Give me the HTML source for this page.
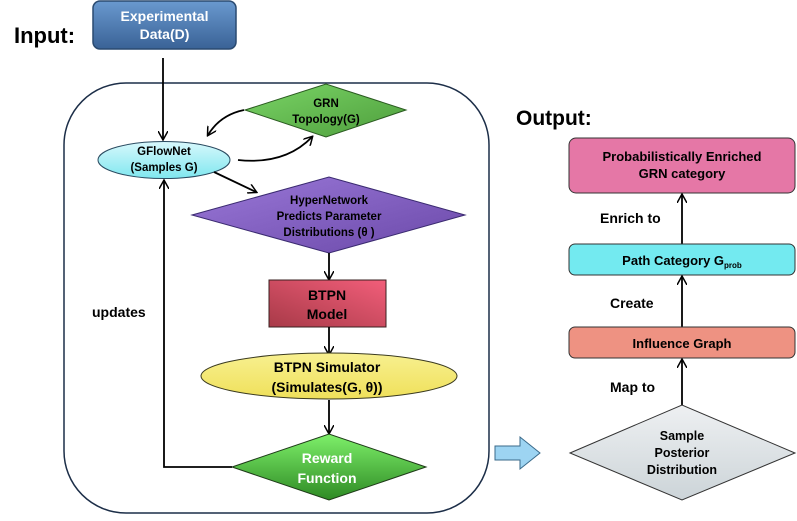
<!DOCTYPE html>
<html><head><style>
body{margin:0;background:#fff;}
svg text{font-family:"Liberation Sans",sans-serif;font-weight:bold;}
</style></head><body>
<svg width="797" height="516" viewBox="0 0 797 516" xmlns="http://www.w3.org/2000/svg">
<defs>
<marker id="a" markerWidth="10" markerHeight="10" refX="8" refY="5" orient="auto" markerUnits="userSpaceOnUse"><path d="M0,0 L9,5 L0,10" fill="none" stroke="#000" stroke-width="1.5"/></marker>
<linearGradient id="gb" x1="0" y1="0" x2="0" y2="1"><stop offset="0" stop-color="#6a99cf"/><stop offset="1" stop-color="#3a6296"/></linearGradient>
<linearGradient id="gc" x1="0" y1="0" x2="0" y2="1"><stop offset="0" stop-color="#d8f8fc"/><stop offset="1" stop-color="#7fe7ef"/></linearGradient>
<linearGradient id="gg" x1="0" y1="0" x2="1" y2="1"><stop offset="0" stop-color="#7ad466"/><stop offset="1" stop-color="#4e9e3c"/></linearGradient>
<linearGradient id="gp" x1="0" y1="0" x2="1" y2="1"><stop offset="0" stop-color="#9a78d8"/><stop offset="1" stop-color="#6a48a8"/></linearGradient>
<linearGradient id="gr" x1="1" y1="0" x2="0" y2="1"><stop offset="0" stop-color="#f25e7a"/><stop offset="1" stop-color="#a83a48"/></linearGradient>
<linearGradient id="gy" x1="0" y1="0" x2="0" y2="1"><stop offset="0" stop-color="#f8f090"/><stop offset="1" stop-color="#efe05a"/></linearGradient>
<linearGradient id="gw" x1="0" y1="0" x2="0" y2="1"><stop offset="0" stop-color="#7ef06a"/><stop offset="1" stop-color="#2e8a24"/></linearGradient>
<linearGradient id="gs" x1="0" y1="0" x2="0" y2="1"><stop offset="0" stop-color="#eef0f2"/><stop offset="1" stop-color="#ccd4d8"/></linearGradient>
</defs>
<text x="14" y="43" font-size="22">Input:</text>
<rect x="93" y="1" width="143" height="48" rx="7" fill="url(#gb)" stroke="#2a4a70" stroke-width="1.5"/>
<text x="164.5" y="21" font-size="14" fill="#fff" text-anchor="middle">Experimental</text>
<text x="164.5" y="39" font-size="14" fill="#fff" text-anchor="middle">Data(D)</text>
<rect x="64" y="83" width="425" height="430" rx="62" fill="none" stroke="#1c2e48" stroke-width="1.5"/>
<line x1="163" y1="58" x2="163" y2="139" stroke="#000" stroke-width="1.8" marker-end="url(#a)"/>
<polygon points="245,110 326,84 406,110 326,137" fill="url(#gg)" stroke="#2a5a20" stroke-width="1"/>
<text x="326" y="107" font-size="11.5" text-anchor="middle">GRN</text>
<text x="326" y="123" font-size="11.5" text-anchor="middle">Topology(G)</text>
<ellipse cx="164" cy="160" rx="66" ry="18.5" fill="url(#gc)" stroke="#2a4a60" stroke-width="1"/>
<text x="164" y="155" font-size="11.5" text-anchor="middle">GFlowNet</text>
<text x="164" y="171" font-size="11.5" text-anchor="middle">(Samples G)</text>
<path d="M244,110 Q220,115 208,135" fill="none" stroke="#000" stroke-width="1.8" marker-end="url(#a)"/>
<path d="M238,160 Q285,165 312,137" fill="none" stroke="#000" stroke-width="1.8" marker-end="url(#a)"/>
<line x1="214" y1="172" x2="256" y2="192" stroke="#000" stroke-width="1.8" marker-end="url(#a)"/>
<polygon points="192,215 329,177 465,215 329,253" fill="url(#gp)" stroke="#3a2a70" stroke-width="1"/>
<text x="329" y="204" font-size="11.5" text-anchor="middle">HyperNetwork</text>
<text x="329" y="220" font-size="11.5" text-anchor="middle">Predicts Parameter</text>
<text x="329" y="236" font-size="11.5" text-anchor="middle">Distributions (θ )</text>
<line x1="329" y1="253" x2="329" y2="279" stroke="#000" stroke-width="1.8" marker-end="url(#a)"/>
<rect x="269" y="280" width="117" height="47" fill="url(#gr)" stroke="#3a2020" stroke-width="1"/>
<text x="327" y="300" font-size="14" text-anchor="middle">BTPN</text>
<text x="327" y="319" font-size="14" text-anchor="middle">Model</text>
<line x1="329" y1="327" x2="329" y2="354" stroke="#000" stroke-width="1.8" marker-end="url(#a)"/>
<ellipse cx="329" cy="376" rx="128" ry="23" fill="url(#gy)" stroke="#3a3a20" stroke-width="1"/>
<text x="327" y="372" font-size="14" text-anchor="middle">BTPN Simulator</text>
<text x="327" y="392" font-size="14" text-anchor="middle">(Simulates(G, θ))</text>
<line x1="329" y1="400" x2="329" y2="433" stroke="#000" stroke-width="1.8" marker-end="url(#a)"/>
<polygon points="232,467 329,434 426,467 329,500" fill="url(#gw)" stroke="#1e3a18" stroke-width="1"/>
<text x="327" y="463" font-size="14" fill="#fff" text-anchor="middle">Reward</text>
<text x="327" y="483" font-size="14" fill="#fff" text-anchor="middle">Function</text>
<polyline points="232,467 164,467 164,181" fill="none" stroke="#000" stroke-width="1.8" marker-end="url(#a)"/>
<text x="92" y="317" font-size="14">updates</text>
<polygon points="495,446 520,446 520,437 540,453 520,469 520,460 495,460" fill="#9dd4f2" stroke="#3a6a8a" stroke-width="1"/>
<text x="516" y="125" font-size="21">Output:</text>
<rect x="569" y="138" width="226" height="55" rx="7" fill="#e577a6" stroke="#333" stroke-width="1"/>
<text x="682" y="161" font-size="13" text-anchor="middle">Probabilistically Enriched</text>
<text x="682" y="178" font-size="13" text-anchor="middle">GRN category</text>
<line x1="682" y1="244" x2="682" y2="195" stroke="#000" stroke-width="1.8" marker-end="url(#a)"/>
<text x="600" y="223" font-size="14">Enrich to</text>
<rect x="569" y="244" width="226" height="31" rx="6" fill="#73eaf0" stroke="#333" stroke-width="1"/>
<text x="682" y="265" font-size="13" text-anchor="middle">Path Category G<tspan font-size="8" dy="3">prob</tspan></text>
<line x1="682" y1="327" x2="682" y2="277" stroke="#000" stroke-width="1.8" marker-end="url(#a)"/>
<text x="610" y="308" font-size="14">Create</text>
<rect x="569" y="327" width="226" height="31" rx="6" fill="#ee9282" stroke="#333" stroke-width="1"/>
<text x="682" y="348" font-size="13" text-anchor="middle">Influence Graph</text>
<line x1="682" y1="405" x2="682" y2="360" stroke="#000" stroke-width="1.8" marker-end="url(#a)"/>
<text x="610" y="392" font-size="14">Map to</text>
<polygon points="570,453 682,405 795,453 682,500" fill="url(#gs)" stroke="#333" stroke-width="1"/>
<text x="682" y="440" font-size="12.5" text-anchor="middle">Sample</text>
<text x="682" y="457" font-size="12.5" text-anchor="middle">Posterior</text>
<text x="682" y="474" font-size="12.5" text-anchor="middle">Distribution</text>
</svg>
</body></html>
